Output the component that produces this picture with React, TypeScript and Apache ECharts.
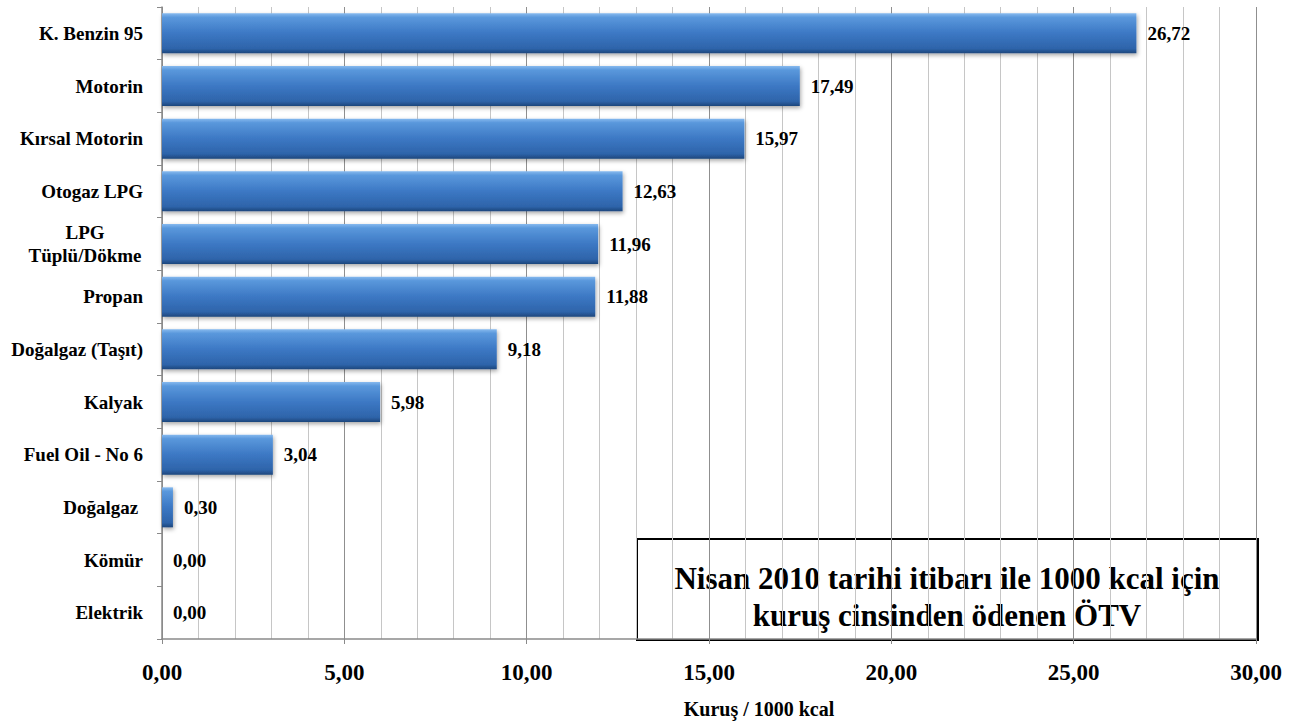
import React, { useEffect, useRef } from "react";
import * as echarts from "echarts";

const categories = [
  "K. Benzin 95",
  "Motorin",
  "Kırsal Motorin",
  "Otogaz LPG",
  "LPG\nTüplü/Dökme",
  "Propan",
  "Doğalgaz (Taşıt)",
  "Kalyak",
  "Fuel Oil - No 6",
  "Doğalgaz ",
  "Kömür",
  "Elektrik",
];
const values = [26.72, 17.49, 15.97, 12.63, 11.96, 11.88, 9.18, 5.98, 3.04, 0.3, 0.0, 0.0];
const xTicks = [0, 5, 10, 15, 20, 25, 30];
const axisName = "Kuruş / 1000 kcal";
const boxLines = ["Nisan 2010 tarihi itibarı ile 1000 kcal için", "kuruş cinsinden ödenen ÖTV"];

const fmt = (v: number) => v.toFixed(2).replace(".", ",");
const SERIF = '"Liberation Serif", "Times New Roman", serif';

export default function App() {
  const ref = useRef<HTMLDivElement>(null);
  useEffect(() => {
    if (!ref.current) return;
    const chart = echarts.init(ref.current, null, { renderer: "svg" });
    chart.setOption({
      animation: false,
      backgroundColor: "#ffffff",
      grid: { left: 162, right: 40, top: 7, bottom: 85, containLabel: false },
      xAxis: {
        type: "value",
        min: xTicks[0],
        max: xTicks[xTicks.length - 1],
        interval: 5,
        name: axisName,
        nameLocation: "middle",
        nameGap: 60,
        nameTextStyle: {
          fontFamily: SERIF,
          fontWeight: "bold",
          fontSize: 20,
          color: "#000",
          padding: [0, 0, 0, 100],
        },
        axisLine: { show: true, lineStyle: { color: "#8a8a8a", width: 1.5 } },
        axisTick: { show: true, length: 5, lineStyle: { color: "#8a8a8a" } },
        axisLabel: {
          formatter: (v: number) => fmt(v),
          fontFamily: SERIF,
          fontWeight: "bold",
          fontSize: 23,
          color: "#000",
          margin: 22,
        },
        splitLine: { show: true, lineStyle: { color: "#8f8f8f", width: 1 } },
        minorTick: { show: false, splitNumber: 5 },
        minorSplitLine: { show: true, lineStyle: { color: "#c6c6c6", width: 1 } },
      },
      yAxis: {
        type: "category",
        data: categories,
        inverse: true,
        axisLine: { show: true, lineStyle: { color: "#8a8a8a", width: 1.5 } },
        axisTick: { show: true, length: 5, lineStyle: { color: "#8a8a8a" } },
        axisLabel: {
          fontFamily: SERIF,
          fontWeight: "bold",
          fontSize: 19,
          color: "#000",
          margin: 19,
          align: "right",
          formatter: (v: string) => {
            if (v.includes("\n")) {
              return v
                .split("\n")
                .map((s) => `{c|${s}}`)
                .join("\n");
            }
            return v;
          },
          rich: {
            c: {
              fontFamily: SERIF,
              fontWeight: "bold",
              fontSize: 19,
              color: "#000",
              width: 116,
              align: "center",
              lineHeight: 23,
            },
          },
        },
        splitLine: { show: false },
      },
      series: [
        {
          type: "bar",
          data: values,
          barWidth: 40,
          itemStyle: {
            color: new echarts.graphic.LinearGradient(0, 0, 0, 1, [
              { offset: 0, color: "#86b9ee" },
              { offset: 0.1, color: "#5a98dc" },
              { offset: 0.5, color: "#3c78c4" },
              { offset: 0.88, color: "#2e64aa" },
              { offset: 1, color: "#1d467c" },
            ]),
            shadowColor: "rgba(0,0,0,0.35)",
            shadowBlur: 4,
            shadowOffsetX: 1,
            shadowOffsetY: 2,
          },
          label: {
            show: true,
            position: "right",
            distance: 11,
            formatter: (p: any) => fmt(p.value),
            fontFamily: SERIF,
            fontWeight: "bold",
            fontSize: 19,
            color: "#000",
          },
        },
      ],
      graphic: [
        {
          type: "group",
          left: 636,
          top: 538,
          children: [
            {
              type: "rect",
              shape: { x: 0, y: 0, width: 621, height: 101 },
              style: { fill: "#fff", stroke: "#000", lineWidth: 2 },
            },
            {
              type: "text",
              x: 310,
              y: 39,
              style: {
                text: boxLines[0],
                fontFamily: SERIF,
                fontWeight: "bold",
                fontSize: 31,
                fill: "#000",
                align: "center",
                verticalAlign: "middle",
              },
            },
            {
              type: "text",
              x: 310,
              y: 76,
              style: {
                text: boxLines[1],
                fontFamily: SERIF,
                fontWeight: "bold",
                fontSize: 31,
                fill: "#000",
                align: "center",
                verticalAlign: "middle",
              },
            },
          ],
        },
      ],
    });
    return () => chart.dispose();
  }, []);
  return (
    <div
      ref={ref}
      style={{ position: "fixed", left: 0, top: 0, width: 1296, height: 724 }}
    />
  );
}
